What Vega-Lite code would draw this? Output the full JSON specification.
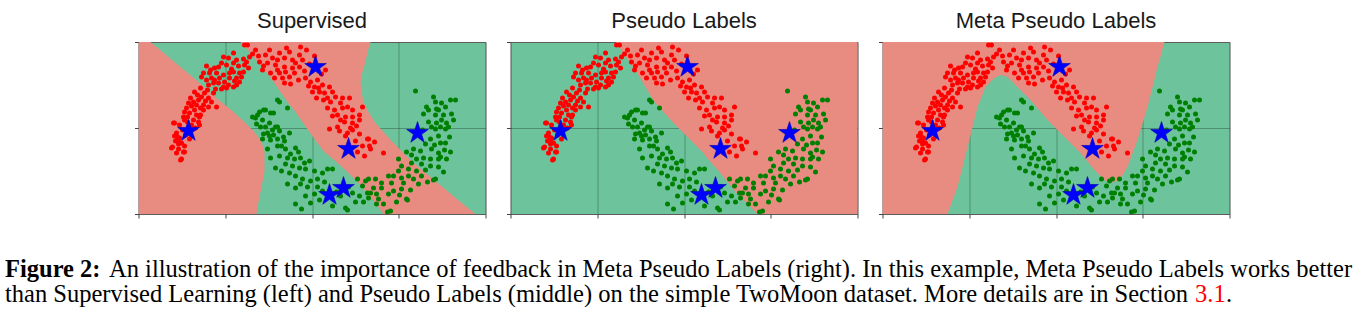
{
  "$schema": "https://vega.github.io/schema/vega-lite/v6.json",
  "padding": {"left": 5, "top": 9, "right": 0, "bottom": 0},
  "background": "white",
  "config": {
    "view": {"stroke": "#7f7f7f", "strokeWidth": 1},
    "axis": {"labels": false, "domain": false, "ticks": true, "tickSize": 4, "tickColor": "#444444", "tickWidth": 1, "grid": true, "gridColor": "#000000", "gridOpacity": 0.27, "gridWidth": 1, "zindex": 1},
    "title": {"font": "Liberation Sans", "fontSize": 22, "fontWeight": "normal", "color": "#1a1a1a", "offset": 9, "baseline": "alphabetic"}
  },
  "datasets": {
    "moons": [
      {"x":106,"y":3,"k":"r"},{"x":95,"y":11,"k":"r"},{"x":85,"y":15,"k":"r"},{"x":90,"y":16,"k":"r"},{"x":98,"y":18,"k":"r"},{"x":105,"y":17,"k":"r"},{"x":111,"y":15,"k":"r"},{"x":83,"y":21,"k":"r"},{"x":88,"y":23,"k":"r"},{"x":95,"y":21,"k":"r"},{"x":68,"y":24,"k":"r"},{"x":80,"y":25,"k":"r"},{"x":106,"y":23,"k":"r"},{"x":110,"y":26,"k":"r"},{"x":105,"y":30,"k":"r"},{"x":101,"y":31,"k":"r"},{"x":95,"y":30,"k":"r"},{"x":91,"y":31,"k":"r"},{"x":85,"y":33,"k":"r"},{"x":78,"y":31,"k":"r"},{"x":71,"y":31,"k":"r"},{"x":65,"y":31,"k":"r"},{"x":63,"y":35,"k":"r"},{"x":68,"y":38,"k":"r"},{"x":73,"y":36,"k":"r"},{"x":76,"y":38,"k":"r"},{"x":81,"y":36,"k":"r"},{"x":86,"y":40,"k":"r"},{"x":91,"y":36,"k":"r"},{"x":98,"y":36,"k":"r"},{"x":101,"y":40,"k":"r"},{"x":90,"y":43,"k":"r"},{"x":85,"y":45,"k":"r"},{"x":80,"y":41,"k":"r"},{"x":75,"y":41,"k":"r"},{"x":70,"y":43,"k":"r"},{"x":88,"y":46,"k":"r"},{"x":95,"y":45,"k":"r"},{"x":98,"y":43,"k":"r"},
      {"x":56,"y":50,"k":"r"},{"x":66,"y":51,"k":"r"},{"x":75,"y":51,"k":"r"},{"x":63,"y":55,"k":"r"},{"x":70,"y":56,"k":"r"},{"x":60,"y":58,"k":"r"},{"x":55,"y":60,"k":"r"},{"x":50,"y":61,"k":"r"},{"x":58,"y":63,"k":"r"},{"x":65,"y":63,"k":"r"},{"x":70,"y":65,"k":"r"},{"x":78,"y":65,"k":"r"},{"x":48,"y":66,"k":"r"},{"x":56,"y":68,"k":"r"},{"x":65,"y":68,"k":"r"},{"x":46,"y":70,"k":"r"},{"x":51,"y":71,"k":"r"},{"x":58,"y":73,"k":"r"},{"x":61,"y":75,"k":"r"},{"x":45,"y":75,"k":"r"},{"x":46,"y":78,"k":"r"},{"x":55,"y":78,"k":"r"},{"x":60,"y":80,"k":"r"},{"x":36,"y":81,"k":"r"},{"x":61,"y":83,"k":"r"},{"x":41,"y":83,"k":"r"},{"x":35,"y":81,"k":"r"},{"x":39,"y":95,"k":"r"},{"x":34,"y":105,"k":"r"},{"x":42,"y":118,"k":"r"},{"x":45,"y":110,"k":"r"},{"x":62,"y":73,"k":"r"},
      {"x":38,"y":91,"k":"r"},{"x":36,"y":94,"k":"r"},{"x":41,"y":96,"k":"r"},{"x":40,"y":99,"k":"r"},{"x":43,"y":101,"k":"r"},{"x":33,"y":106,"k":"r"},{"x":40,"y":107,"k":"r"},{"x":46,"y":110,"k":"r"},{"x":51,"y":97,"k":"r"},{"x":43,"y":117,"k":"r"},{"x":40,"y":102,"k":"r"},
      {"x":117,"y":8,"k":"r"},{"x":127,"y":13,"k":"r"},{"x":134,"y":16,"k":"r"},{"x":141,"y":11,"k":"r"},{"x":151,"y":10,"k":"r"},{"x":162,"y":5,"k":"r"},{"x":161,"y":13,"k":"r"},{"x":146,"y":16,"k":"r"},{"x":154,"y":18,"k":"r"},{"x":164,"y":18,"k":"r"},{"x":121,"y":20,"k":"r"},{"x":129,"y":21,"k":"r"},{"x":137,"y":23,"k":"r"},{"x":146,"y":25,"k":"r"},{"x":154,"y":26,"k":"r"},{"x":161,"y":25,"k":"r"},{"x":124,"y":28,"k":"r"},{"x":132,"y":31,"k":"r"},{"x":141,"y":31,"k":"r"},{"x":147,"y":30,"k":"r"},{"x":156,"y":31,"k":"r"},{"x":136,"y":36,"k":"r"},{"x":144,"y":36,"k":"r"},{"x":151,"y":35,"k":"r"},{"x":146,"y":41,"k":"r"},{"x":167,"y":36,"k":"r"},{"x":172,"y":40,"k":"r"},{"x":179,"y":38,"k":"r"},{"x":187,"y":28,"k":"r"},{"x":176,"y":45,"k":"r"},{"x":174,"y":50,"k":"r"},{"x":184,"y":43,"k":"r"},{"x":191,"y":45,"k":"r"},{"x":181,"y":50,"k":"r"},{"x":186,"y":51,"k":"r"},{"x":194,"y":50,"k":"r"},{"x":189,"y":56,"k":"r"},{"x":197,"y":55,"k":"r"},{"x":204,"y":56,"k":"r"},{"x":202,"y":61,"k":"r"},{"x":211,"y":56,"k":"r"},{"x":209,"y":65,"k":"r"},{"x":189,"y":66,"k":"r"},{"x":196,"y":68,"k":"r"},{"x":204,"y":66,"k":"r"},{"x":214,"y":68,"k":"r"},{"x":224,"y":65,"k":"r"},{"x":199,"y":73,"k":"r"},{"x":207,"y":75,"k":"r"},{"x":214,"y":75,"k":"r"},{"x":221,"y":73,"k":"r"},{"x":206,"y":80,"k":"r"},{"x":214,"y":81,"k":"r"},{"x":221,"y":78,"k":"r"},{"x":212,"y":86,"k":"r"},{"x":199,"y":85,"k":"r"},{"x":191,"y":87,"k":"r"},
      {"x":201,"y":89,"k":"r"},{"x":214,"y":88,"k":"r"},{"x":221,"y":92,"k":"r"},{"x":229,"y":97,"k":"r"},{"x":207,"y":94,"k":"r"},{"x":226,"y":114,"k":"r"},{"x":231,"y":104,"k":"r"},{"x":230,"y":97,"k":"r"},{"x":232,"y":107,"k":"r"},{"x":245,"y":111,"k":"r"},{"x":109,"y":3,"k":"r"},{"x":168,"y":8,"k":"r"},{"x":183,"y":32,"k":"r"},
      {"x":72,"y":28,"k":"r"},{"x":76,"y":26,"k":"r"},{"x":93,"y":27,"k":"r"},{"x":100,"y":24,"k":"r"},{"x":103,"y":35,"k":"r"},{"x":108,"y":20,"k":"r"},{"x":114,"y":12,"k":"r"},{"x":96,"y":39,"k":"r"},{"x":83,"y":47,"k":"r"},{"x":77,"y":47,"k":"r"},{"x":69,"y":48,"k":"r"},{"x":62,"y":46,"k":"r"},{"x":59,"y":53,"k":"r"},{"x":52,"y":56,"k":"r"},{"x":73,"y":60,"k":"r"},{"x":67,"y":59,"k":"r"},{"x":62,"y":66,"k":"r"},{"x":53,"y":64,"k":"r"},{"x":49,"y":75,"k":"r"},{"x":53,"y":83,"k":"r"},{"x":44,"y":88,"k":"r"},{"x":47,"y":93,"k":"r"},{"x":37,"y":99,"k":"r"},{"x":46,"y":104,"k":"r"},{"x":38,"y":111,"k":"r"},{"x":49,"y":80,"k":"r"},{"x":57,"y":86,"k":"r"},
      {"x":120,"y":14,"k":"r"},{"x":125,"y":24,"k":"r"},{"x":131,"y":8,"k":"r"},{"x":139,"y":18,"k":"r"},{"x":148,"y":6,"k":"r"},{"x":157,"y":21,"k":"r"},{"x":166,"y":29,"k":"r"},{"x":171,"y":22,"k":"r"},{"x":176,"y":14,"k":"r"},{"x":180,"y":46,"k":"r"},{"x":170,"y":44,"k":"r"},{"x":160,"y":38,"k":"r"},{"x":139,"y":28,"k":"r"},{"x":152,"y":42,"k":"r"},{"x":178,"y":56,"k":"r"},{"x":192,"y":60,"k":"r"},{"x":185,"y":58,"k":"r"},{"x":194,"y":74,"k":"r"},{"x":202,"y":78,"k":"r"},{"x":218,"y":84,"k":"r"},{"x":209,"y":91,"k":"r"},{"x":217,"y":99,"k":"r"},{"x":224,"y":104,"k":"r"},{"x":219,"y":110,"k":"r"},{"x":236,"y":100,"k":"r"},
      {"x":114,"y":75,"k":"g"},{"x":119,"y":73,"k":"g"},{"x":125,"y":68,"k":"g"},{"x":139,"y":58,"k":"g"},{"x":135,"y":71,"k":"g"},{"x":122,"y":85,"k":"g"},{"x":129,"y":91,"k":"g"},{"x":132,"y":98,"k":"g"},{"x":139,"y":85,"k":"g"},{"x":145,"y":95,"k":"g"},{"x":141,"y":60,"k":"g"},{"x":149,"y":66,"k":"g"},{"x":121,"y":70,"k":"g"},{"x":127,"y":68,"k":"g"},{"x":132,"y":71,"k":"g"},{"x":117,"y":76,"k":"g"},{"x":124,"y":78,"k":"g"},{"x":131,"y":81,"k":"g"},{"x":137,"y":85,"k":"g"},{"x":127,"y":85,"k":"g"},
      {"x":134,"y":88,"k":"g"},{"x":141,"y":89,"k":"g"},{"x":151,"y":91,"k":"g"},{"x":124,"y":97,"k":"g"},{"x":131,"y":94,"k":"g"},{"x":139,"y":97,"k":"g"},{"x":146,"y":99,"k":"g"},{"x":129,"y":107,"k":"g"},{"x":139,"y":104,"k":"g"},{"x":147,"y":107,"k":"g"},{"x":157,"y":106,"k":"g"},{"x":132,"y":116,"k":"g"},{"x":141,"y":114,"k":"g"},{"x":149,"y":116,"k":"g"},{"x":156,"y":117,"k":"g"},{"x":162,"y":116,"k":"g"},{"x":171,"y":119,"k":"g"},{"x":137,"y":126,"k":"g"},{"x":147,"y":122,"k":"g"},{"x":154,"y":124,"k":"g"},{"x":161,"y":126,"k":"g"},{"x":167,"y":127,"k":"g"},{"x":176,"y":129,"k":"g"},{"x":157,"y":134,"k":"g"},{"x":164,"y":137,"k":"g"},{"x":172,"y":139,"k":"g"},{"x":179,"y":137,"k":"g"},{"x":184,"y":131,"k":"g"},{"x":189,"y":127,"k":"g"},{"x":194,"y":127,"k":"g"},{"x":149,"y":142,"k":"g"},{"x":157,"y":146,"k":"g"},{"x":167,"y":154,"k":"g"},{"x":176,"y":152,"k":"g"},{"x":184,"y":149,"k":"g"},{"x":157,"y":162,"k":"g"},{"x":172,"y":161,"k":"g"},{"x":194,"y":164,"k":"g"},{"x":207,"y":166,"k":"g"},{"x":202,"y":154,"k":"g"},{"x":214,"y":151,"k":"g"},{"x":221,"y":154,"k":"g"},{"x":219,"y":137,"k":"g"},{"x":224,"y":144,"k":"g"},{"x":229,"y":151,"k":"g"},{"x":227,"y":139,"k":"g"},{"x":209,"y":168,"k":"g"},
      {"x":297,"y":87,"k":"g"},{"x":307,"y":87,"k":"g"},{"x":300,"y":94,"k":"g"},{"x":307,"y":101,"k":"g"},{"x":302,"y":101,"k":"g"},{"x":292,"y":97,"k":"g"},{"x":275,"y":107,"k":"g"},{"x":282,"y":109,"k":"g"},{"x":293,"y":107,"k":"g"},{"x":300,"y":111,"k":"g"},{"x":285,"y":116,"k":"g"},{"x":278,"y":117,"k":"g"},{"x":292,"y":117,"k":"g"},{"x":300,"y":117,"k":"g"},{"x":308,"y":117,"k":"g"},{"x":273,"y":121,"k":"g"},{"x":283,"y":122,"k":"g"},{"x":292,"y":124,"k":"g"},{"x":260,"y":117,"k":"g"},{"x":263,"y":124,"k":"g"},{"x":270,"y":127,"k":"g"},{"x":278,"y":129,"k":"g"},{"x":283,"y":134,"k":"g"},{"x":260,"y":129,"k":"g"},{"x":250,"y":134,"k":"g"},{"x":255,"y":134,"k":"g"},{"x":263,"y":136,"k":"g"},{"x":270,"y":134,"k":"g"},{"x":297,"y":137,"k":"g"},{"x":280,"y":142,"k":"g"},{"x":237,"y":137,"k":"g"},{"x":243,"y":141,"k":"g"},{"x":253,"y":141,"k":"g"},{"x":265,"y":141,"k":"g"},{"x":230,"y":137,"k":"g"},{"x":235,"y":146,"k":"g"},{"x":243,"y":146,"k":"g"},{"x":255,"y":149,"k":"g"},{"x":263,"y":147,"k":"g"},{"x":232,"y":151,"k":"g"},{"x":238,"y":152,"k":"g"},{"x":250,"y":152,"k":"g"},{"x":268,"y":157,"k":"g"},{"x":230,"y":156,"k":"g"},{"x":238,"y":162,"k":"g"},{"x":252,"y":169,"k":"g"},
      {"x":277,"y":49,"k":"g"},{"x":295,"y":55,"k":"g"},{"x":288,"y":65,"k":"g"},{"x":297,"y":60,"k":"g"},{"x":303,"y":61,"k":"g"},{"x":317,"y":58,"k":"g"},{"x":290,"y":68,"k":"g"},{"x":300,"y":68,"k":"g"},{"x":307,"y":65,"k":"g"},{"x":285,"y":72,"k":"g"},{"x":297,"y":73,"k":"g"},{"x":305,"y":73,"k":"g"},{"x":303,"y":78,"k":"g"},{"x":290,"y":80,"k":"g"},{"x":298,"y":81,"k":"g"},{"x":308,"y":81,"k":"g"},{"x":315,"y":78,"k":"g"},{"x":310,"y":85,"k":"g"},{"x":293,"y":85,"k":"g"},{"x":302,"y":85,"k":"g"},
      {"x":302,"y":115,"k":"g"},{"x":295,"y":138,"k":"g"},{"x":269,"y":158,"k":"g"},{"x":249,"y":170,"k":"g"},{"x":312,"y":58,"k":"g"},
      {"x":118,"y":82,"k":"g"},{"x":125,"y":92,"k":"g"},{"x":135,"y":93,"k":"g"},{"x":143,"y":104,"k":"g"},{"x":152,"y":112,"k":"g"},{"x":160,"y":110,"k":"g"},{"x":166,"y":121,"k":"g"},{"x":143,"y":129,"k":"g"},{"x":151,"y":131,"k":"g"},{"x":162,"y":142,"k":"g"},{"x":169,"y":145,"k":"g"},{"x":179,"y":145,"k":"g"},{"x":186,"y":140,"k":"g"},{"x":181,"y":158,"k":"g"},{"x":163,"y":167,"k":"g"},{"x":198,"y":150,"k":"g"},{"x":210,"y":145,"k":"g"},{"x":217,"y":160,"k":"g"},{"x":225,"y":160,"k":"g"},{"x":240,"y":157,"k":"g"},{"x":245,"y":162,"k":"g"},{"x":258,"y":160,"k":"g"},{"x":261,"y":153,"k":"g"},{"x":272,"y":148,"k":"g"},{"x":275,"y":137,"k":"g"},{"x":287,"y":128,"k":"g"},{"x":289,"y":140,"k":"g"},{"x":300,"y":125,"k":"g"},{"x":306,"y":108,"k":"g"},{"x":311,"y":95,"k":"g"},{"x":313,"y":72,"k":"g"},{"x":298,"y":67,"k":"g"},{"x":284,"y":88,"k":"g"},{"x":287,"y":102,"k":"g"},{"x":296,"y":103,"k":"g"},{"x":312,"y":110,"k":"g"},{"x":305,"y":130,"k":"g"},{"x":273,"y":113,"k":"g"},{"x":268,"y":110,"k":"g"}
    ],
    "stars": [
      {"x":50,"y":89},{"x":177,"y":25},{"x":210,"y":107},{"x":191,"y":153},{"x":205,"y":146},{"x":279,"y":91}
    ],
    "p1": [
      {"y":0,"a":12,"b":102,"c":232},{"y":10,"a":24,"b":111,"c":229},{"y":20,"a":36,"b":119,"c":227},{"y":30,"a":48,"b":128,"c":224},{"y":40,"a":60,"b":135,"c":222},{"y":50,"a":71,"b":142,"c":223},{"y":60,"a":83,"b":149,"c":225},{"y":70,"a":95,"b":157,"c":230},{"y":80,"a":106,"b":164,"c":236},{"y":90,"a":116,"b":171,"c":245},{"y":100,"a":123,"b":178,"c":254},{"y":110,"a":126,"b":186,"c":264},{"y":120,"a":126,"b":198,"c":274},{"y":130,"a":126,"b":209,"c":286},{"y":140,"a":124,"b":219,"c":298},{"y":150,"a":122,"b":228,"c":310},{"y":160,"a":120,"b":236,"c":322},{"y":172,"a":118,"b":245,"c":337}
    ],
    "p2": [
      {"y":0,"b":105},{"y":10,"b":112},{"y":20,"b":119},{"y":30,"b":126},{"y":40,"b":132},{"y":50,"b":138},{"y":60,"b":144},{"y":70,"b":153},{"y":80,"b":162},{"y":90,"b":172},{"y":100,"b":182},{"y":110,"b":192},{"y":120,"b":200},{"y":130,"b":209},{"y":140,"b":217},{"y":150,"b":225},{"y":160,"b":235},{"y":172,"b":247}
    ],
    "p3": [
      {"x":0,"y":172},{"x":65,"y":172},{"x":75,"y":145},{"x":85,"y":105},{"x":95,"y":65},{"x":103,"y":45},{"x":112,"y":36},{"x":118,"y":33},{"x":125,"y":35},{"x":135,"y":45},{"x":148,"y":58},{"x":165,"y":78},{"x":182,"y":95},{"x":198,"y":111},{"x":212,"y":128},{"x":222,"y":138},{"x":228,"y":141},{"x":237,"y":138},{"x":245,"y":125},{"x":255,"y":98},{"x":265,"y":65},{"x":275,"y":25},{"x":282,"y":0},{"x":347,"y":0}
    ],
    "caption": [
      {"line":1,"seg":1,"text":"Figure 2:"},
      {"line":1,"seg":2,"text":"An illustration of the importance of feedback in Meta Pseudo Labels (right). In this example, Meta Pseudo Labels works better"},
      {"line":2,"seg":1,"text":"than Supervised Learning (left) and Pseudo Labels (middle) on the simple TwoMoon dataset. More details are in Section"},
      {"line":2,"seg":2,"text":"3.1"},
      {"line":2,"seg":3,"text":"."}
    ]
  },
  "vconcat": [
    {
      "hconcat": [
        {
          "title": "Supervised",
          "width": 347, "height": 172,
          "view": {"fill": "#6DC39B"},
          "layer": [
            {"data": {"name": "p1"}, "mark": {"type": "area", "orient": "horizontal", "color": "#E88B81", "opacity": 1, "clip": true},
             "encoding": {
               "y": {"field": "y", "type": "quantitative", "scale": {"domain": [0, 172], "reverse": true, "nice": false, "zero": false}, "axis": {"values": [0, 86, 172], "title": null}},
               "x": {"field": "a", "type": "quantitative", "scale": {"domain": [0, 347], "nice": false, "zero": false}, "axis": {"values": [0, 86.75, 173.5, 260.25, 347], "title": null}},
               "x2": {"datum": 0}}},
            {"data": {"name": "p1"}, "mark": {"type": "area", "orient": "horizontal", "color": "#E88B81", "opacity": 1, "clip": true},
             "encoding": {
               "y": {"field": "y", "type": "quantitative", "axis": {"values": [0, 86, 172], "title": null}},
               "x": {"field": "b", "type": "quantitative", "axis": {"values": [0, 86.75, 173.5, 260.25, 347], "title": null}},
               "x2": {"field": "c"}}},
            {"data": {"name": "moons"}, "mark": {"type": "circle", "size": 25, "opacity": 1, "clip": true},
             "encoding": {
               "x": {"field": "x", "type": "quantitative", "axis": {"values": [0, 86.75, 173.5, 260.25, 347], "title": null}},
               "y": {"field": "y", "type": "quantitative", "axis": {"values": [0, 86, 172], "title": null}},
               "color": {"field": "k", "type": "nominal", "scale": {"domain": ["r", "g"], "range": ["#ff0000", "#008000"]}, "legend": null}}},
            {"data": {"name": "stars"}, "mark": {"type": "point", "shape": "M0,-1L0.225,-0.309L0.951,-0.309L0.363,0.118L0.588,0.809L0,0.382L-0.588,0.809L-0.363,0.118L-0.951,-0.309L-0.225,-0.309Z", "filled": true, "size": 520, "color": "#0000ff", "opacity": 1, "stroke": "#0000b0", "strokeWidth": 0.6},
             "encoding": {
               "x": {"field": "x", "type": "quantitative", "axis": {"values": [0, 86.75, 173.5, 260.25, 347], "title": null}},
               "y": {"field": "y", "type": "quantitative", "axis": {"values": [0, 86, 172], "title": null}}}}
          ]
        },
        {
          "title": "Pseudo Labels",
          "width": 347, "height": 172,
          "view": {"fill": "#6DC39B"},
          "layer": [
            {"data": {"name": "p2"}, "mark": {"type": "area", "orient": "horizontal", "color": "#E88B81", "opacity": 1, "clip": true},
             "encoding": {
               "y": {"field": "y", "type": "quantitative", "scale": {"domain": [0, 172], "reverse": true, "nice": false, "zero": false}, "axis": {"values": [0, 86, 172], "title": null}},
               "x": {"field": "b", "type": "quantitative", "scale": {"domain": [0, 347], "nice": false, "zero": false}, "axis": {"values": [0, 86.75, 173.5, 260.25, 347], "title": null}},
               "x2": {"datum": 347}}},
            {"data": {"name": "moons"}, "mark": {"type": "circle", "size": 25, "opacity": 1, "clip": true},
             "encoding": {
               "x": {"field": "x", "type": "quantitative", "axis": {"values": [0, 86.75, 173.5, 260.25, 347], "title": null}},
               "y": {"field": "y", "type": "quantitative", "axis": {"values": [0, 86, 172], "title": null}},
               "color": {"field": "k", "type": "nominal", "scale": {"domain": ["r", "g"], "range": ["#ff0000", "#008000"]}, "legend": null}}},
            {"data": {"name": "stars"}, "mark": {"type": "point", "shape": "M0,-1L0.225,-0.309L0.951,-0.309L0.363,0.118L0.588,0.809L0,0.382L-0.588,0.809L-0.363,0.118L-0.951,-0.309L-0.225,-0.309Z", "filled": true, "size": 520, "color": "#0000ff", "opacity": 1, "stroke": "#0000b0", "strokeWidth": 0.6},
             "encoding": {
               "x": {"field": "x", "type": "quantitative", "axis": {"values": [0, 86.75, 173.5, 260.25, 347], "title": null}},
               "y": {"field": "y", "type": "quantitative", "axis": {"values": [0, 86, 172], "title": null}}}}
          ]
        },
        {
          "title": "Meta Pseudo Labels",
          "width": 347, "height": 172,
          "view": {"fill": "#6DC39B"},
          "layer": [
            {"data": {"name": "p3"}, "mark": {"type": "area", "orient": "vertical", "color": "#E88B81", "opacity": 1, "clip": true},
             "encoding": {
               "x": {"field": "x", "type": "quantitative", "scale": {"domain": [0, 347], "nice": false, "zero": false}, "axis": {"values": [0, 86.75, 173.5, 260.25, 347], "title": null}},
               "y": {"field": "y", "type": "quantitative", "scale": {"domain": [0, 172], "reverse": true, "nice": false, "zero": false}, "axis": {"values": [0, 86, 172], "title": null}},
               "y2": {"datum": 0}}},
            {"data": {"name": "moons"}, "mark": {"type": "circle", "size": 25, "opacity": 1, "clip": true},
             "encoding": {
               "x": {"field": "x", "type": "quantitative", "axis": {"values": [0, 86.75, 173.5, 260.25, 347], "title": null}},
               "y": {"field": "y", "type": "quantitative", "axis": {"values": [0, 86, 172], "title": null}},
               "color": {"field": "k", "type": "nominal", "scale": {"domain": ["r", "g"], "range": ["#ff0000", "#008000"]}, "legend": null}}},
            {"data": {"name": "stars"}, "mark": {"type": "point", "shape": "M0,-1L0.225,-0.309L0.951,-0.309L0.363,0.118L0.588,0.809L0,0.382L-0.588,0.809L-0.363,0.118L-0.951,-0.309L-0.225,-0.309Z", "filled": true, "size": 520, "color": "#0000ff", "opacity": 1, "stroke": "#0000b0", "strokeWidth": 0.6},
             "encoding": {
               "x": {"field": "x", "type": "quantitative", "axis": {"values": [0, 86.75, 173.5, 260.25, 347], "title": null}},
               "y": {"field": "y", "type": "quantitative", "axis": {"values": [0, 86, 172], "title": null}}}}
          ]
        }
      ],
      "spacing": 25,
      "bounds": "flush"
    },
    {
      "width": 1359, "height": 50,
      "view": {"stroke": null, "fill": null},
      "data": {"name": "caption"},
      "encoding": {
        "y": {"field": "line", "type": "ordinal", "axis": null, "scale": {"paddingInner": 0, "paddingOuter": 0}},
        "x": {"datum": 0, "type": "quantitative", "scale": {"domain": [0, 1]}, "axis": null},
        "text": {"field": "text", "type": "nominal"}
      },
      "layer": [
        {"transform": [{"filter": "datum.line === 1 && datum.seg === 1"}], "mark": {"type": "text", "align": "left", "baseline": "middle", "font": "Liberation Serif", "fontSize": 24.5, "fontWeight": "bold", "color": "#000000"}},
        {"transform": [{"filter": "datum.line === 1 && datum.seg === 2"}], "mark": {"type": "text", "align": "left", "baseline": "middle", "font": "Liberation Serif", "fontSize": 24.5, "color": "#000000", "dx": 104}},
        {"transform": [{"filter": "datum.line === 2 && datum.seg === 1"}], "mark": {"type": "text", "align": "left", "baseline": "middle", "font": "Liberation Serif", "fontSize": 24.5, "color": "#000000"}},
        {"transform": [{"filter": "datum.line === 2 && datum.seg === 2"}], "mark": {"type": "text", "align": "left", "baseline": "middle", "font": "Liberation Serif", "fontSize": 24.5, "color": "#ff0000", "dx": 1190}},
        {"transform": [{"filter": "datum.line === 2 && datum.seg === 3"}], "mark": {"type": "text", "align": "left", "baseline": "middle", "font": "Liberation Serif", "fontSize": 24.5, "color": "#000000", "dx": 1221}}
      ]
    }
  ],
  "spacing": 37,
  "center": true
}
